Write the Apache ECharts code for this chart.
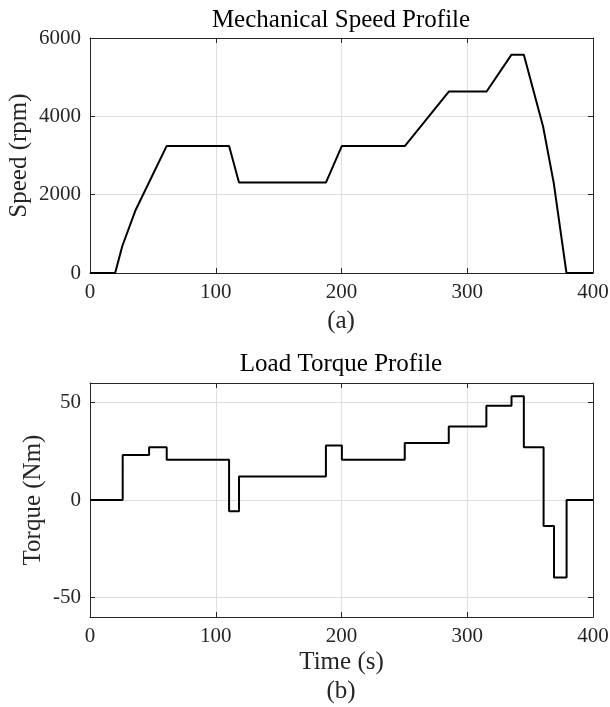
<!DOCTYPE html>
<html>
<head>
<meta charset="utf-8">
<script src="https://cdn.jsdelivr.net/npm/echarts@6/dist/echarts.min.js"></script>
<style>
    html, body { margin: 0; padding: 0; background: #fff; }
    #chart { width: 610px; height: 707px; }
</style>
</head>
<body>
<div id="chart"></div>
<script>
// speed profile (a)
const speedTime = [0, 20, 25.7, 36.3, 61, 110.6, 118.5, 187.6, 200.3, 250.5, 285.5, 315.4, 335.2, 345, 360.3, 368.8, 378.9, 400]
const speedValue = [0, 0, 690, 1610, 3245, 3245, 2310, 2310, 3245, 3245, 4635, 4635, 5575, 5575, 3740, 2295, 0, 0]

// load torque profile (b), each value holds until the next time
const torqueTime = [0, 26, 47, 61, 110.6, 118.5, 187.6, 200.3, 250.3, 285.3, 315.2, 335.2, 345, 360.7, 369, 379, 400]
const torqueValue = [0, 23.1, 27, 20.6, -5.8, 12, 28, 20.6, 29.2, 37.7, 48.3, 53.2, 27, -13.3, -39.8, 0, 0]

// tick labels
const xTickValues = [0, 100, 200, 300, 400]
const speedTickValues = [0, 2000, 4000, 6000]
const torqueTickValues = [-50, 0, 50]

const xRange = { min: 0, max: 400 }
const speedRange = { min: 0, max: 6000 }
const torqueRange = { min: -60, max: 60 }

const chart = echarts.init(document.getElementById('chart'))

const serif = 'Liberation Serif'
const axisColor = '#262626'
const gridColor = '#dedede'

// main axis (labels + grid lines)
function mainAxis(grid, range, ticks, position, extra) {
    return Object.assign({
        type: 'value',
        gridIndex: grid,
        position: position,
        min: range.min,
        max: range.max,
        nameMoveOverlap: false,
        axisLine: { show: true, onZero: false, lineStyle: { color: axisColor, width: 1 } },
        axisTick: { show: true, inside: true, length: 5, customValues: ticks, lineStyle: { color: axisColor } },
        axisLabel: {
            fontFamily: serif, fontSize: 21, color: axisColor, margin: 9,
            customValues: ticks,
            formatter: v => String(v)
        },
        splitLine: { show: true, lineStyle: { color: gridColor, width: 1 } }
    }, extra || {})
}

// mirror axis for the box (top / right)
function boxAxis(grid, range, ticks, position) {
    return {
        type: 'value',
        gridIndex: grid,
        position: position,
        min: range.min,
        max: range.max,
        axisLine: { show: true, onZero: false, lineStyle: { color: axisColor, width: 1 } },
        axisTick: { show: true, inside: true, length: 5, customValues: ticks, lineStyle: { color: axisColor } },
        axisLabel: { show: false, customValues: ticks },
        splitLine: { show: false }
    }
}

const nameStyle = { fontFamily: serif, fontSize: 25, color: axisColor }

const option = {
    animation: false,
    backgroundColor: '#ffffff',
    title: [
        { text: 'Mechanical Speed Profile', left: 341, top: 8, textAlign: 'center', padding: 0,
          textStyle: { fontFamily: serif, fontSize: 25, fontWeight: 'normal', color: '#000' } },
        { text: '(a)', left: 341, top: 309, textAlign: 'center', padding: 0,
          textStyle: { fontFamily: serif, fontSize: 25, fontWeight: 'normal', color: axisColor } },
        { text: 'Load Torque Profile', left: 341, top: 352, textAlign: 'center', padding: 0,
          textStyle: { fontFamily: serif, fontSize: 25, fontWeight: 'normal', color: '#000' } },
        { text: '(b)', left: 341, top: 679, textAlign: 'center', padding: 0,
          textStyle: { fontFamily: serif, fontSize: 25, fontWeight: 'normal', color: axisColor } }
    ],
    grid: [
        { left: 90, right: 17, top: 38, height: 235, containLabel: false, outerBoundsMode: 'none' },
        { left: 90, right: 17, top: 383, height: 234, containLabel: false, outerBoundsMode: 'none' }
    ],
    xAxis: [
        mainAxis(0, xRange, xTickValues, 'bottom'),
        boxAxis(0, xRange, xTickValues, 'top'),
        mainAxis(1, xRange, xTickValues, 'bottom', {
            name: 'Time (s)', nameLocation: 'middle', nameGap: 33, nameTextStyle: nameStyle
        }),
        boxAxis(1, xRange, xTickValues, 'top')
    ],
    yAxis: [
        mainAxis(0, speedRange, speedTickValues, 'left', {
            name: 'Speed (rpm)', nameLocation: 'middle', nameGap: 58, nameTextStyle: nameStyle
        }),
        boxAxis(0, speedRange, speedTickValues, 'right'),
        mainAxis(1, torqueRange, torqueTickValues, 'left', {
            name: 'Torque (Nm)', nameLocation: 'middle', nameGap: 44, nameTextStyle: nameStyle
        }),
        boxAxis(1, torqueRange, torqueTickValues, 'right')
    ],
    series: [
        {
            type: 'line',
            xAxisIndex: 0,
            yAxisIndex: 0,
            data: speedTime.map((t, i) => [t, speedValue[i]]),
            showSymbol: false,
            lineStyle: { color: '#000', width: 2 }
        },
        {
            type: 'line',
            xAxisIndex: 2,
            yAxisIndex: 2,
            step: 'end',
            data: torqueTime.map((t, i) => [t, torqueValue[i]]),
            showSymbol: false,
            lineStyle: { color: '#000', width: 2 }
        }
    ]
}

chart.setOption(option)
</script>
</body>
</html>
